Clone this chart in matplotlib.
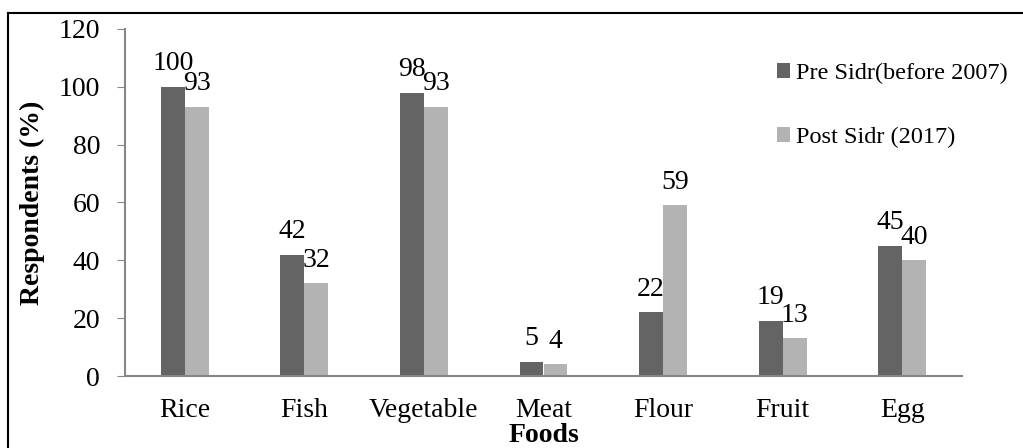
import numpy as np
import matplotlib.pyplot as plt
from matplotlib.lines import Line2D

foods = ["Rice", "Fish", "Vegetable", "Meat", "Flour", "Fruit", "Egg"]
pre_sidr = [100, 42, 98, 5, 22, 19, 45]
post_sidr = [93, 32, 93, 4, 59, 13, 40]
y_ticks = [0, 20, 40, 60, 80, 100, 120]

plt.rcParams['font.family'] = ['Liberation Serif', 'DejaVu Serif']
fs = 20

fig = plt.figure(figsize=(10.23, 4.48), dpi=100)
ax = fig.add_axes([125 / 1023, 1 - 376 / 448, 837 / 1023, 347 / 448])

x = np.arange(len(foods))
w = 0.2
dark = "#646464"
light = "#b3b3b3"
b1 = ax.bar(x - w / 2, pre_sidr, w, color=dark, label="Pre Sidr(before 2007)")
b2 = ax.bar(x + w / 2, post_sidr, w, color=light, label="Post Sidr (2017)")

for bars, vals in ((b1, pre_sidr), (b2, post_sidr)):
    for rect, v in zip(bars, vals):
        ax.annotate(str(v), (rect.get_x() + rect.get_width() / 2, v),
                    xytext=(0, 12), textcoords="offset points",
                    ha="center", va="baseline", fontsize=fs)

ax.set_xlim(-0.5, len(foods) - 0.5)
ax.set_ylim(0, 120)
ax.set_yticks(y_ticks)
ax.set_xticks(x)
ax.set_xticklabels(foods)
ax.tick_params(axis="x", length=0, pad=16, labelsize=fs)
ax.tick_params(axis="y", length=6, color="#868686", labelsize=fs, pad=12)

for s in ["top", "right"]:
    ax.spines[s].set_visible(False)
for s in ["left", "bottom"]:
    ax.spines[s].set_color("#868686")
    ax.spines[s].set_linewidth(1.5)

ax.set_ylabel("Respondents (%)", fontsize=fs, fontweight="bold", labelpad=10)
ax.set_xlabel("Foods", fontsize=fs, fontweight="bold", labelpad=0)

ax.legend(loc="upper left", bbox_to_anchor=(0.767, 0.93), frameon=False,
          fontsize=17.5, handlelength=0.55, handleheight=0.55, handletextpad=0.25,
          labelspacing=1.75, borderaxespad=0)

# outer frame (only top and left edges show in the crop)
fig.add_artist(Line2D([8 / 1023, 8 / 1023], [0, 1 - 13 / 448],
                      transform=fig.transFigure, color="black", lw=1.5))
fig.add_artist(Line2D([8 / 1023, 1], [1 - 13 / 448, 1 - 13 / 448],
                      transform=fig.transFigure, color="black", lw=1.5))

fig.savefig("out.png", dpi=100)
